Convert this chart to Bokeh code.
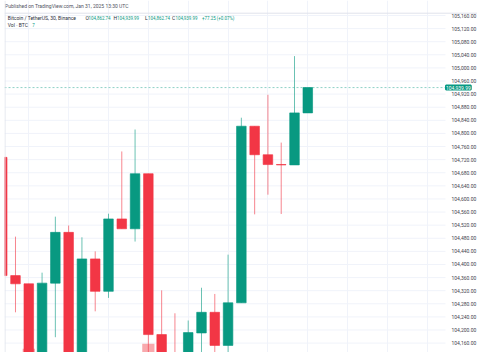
from bokeh.plotting import figure
from bokeh.models import Range1d, FixedTicker, NumeralTickFormatter, Span, Label, ColumnDataSource
from bokeh.core.properties import value
from bokeh.embed import file_html
from bokeh.resources import INLINE

# ---- data (30-minute candles, BTC/USDT, Binance) ----
opens  = [104727, 104366, 104341, 104062, 104343, 104498, 104042, 104417, 104318, 104539,
          104509, 104677, 104186, 104060, 104032, 104191, 104254, 104153, 104283, 104822,
          104735, 104705, 104704, 104862.74]
highs  = [104760, 104485, 104341, 104375, 104546, 104519, 104483, 104440, 104555, 104745,
          104812, 104677, 104321, 104251, 104229, 104329, 104310, 104430, 104848, 104822,
          104918, 104772, 105036, 104939.99]
lows   = [104330, 104254, 104020, 104040, 104178, 104000, 104010, 104257, 104298, 104509,
          104470, 104090, 104020, 103990, 104000, 104117, 104090, 104090, 104283, 104553,
          104613, 104554, 104704, 104862.74]
closes = [104366, 104341, 104060, 104343, 104498, 104040, 104417, 104318, 104539, 104509,
          104677, 104186, 104060, 104030, 104192, 104254, 104153, 104283, 104822, 104735,
          104705, 104704, 104862.74, 104939.99]
volumes = [820, 520, 1250, 780, 640, 860, 840, 430, 560, 470,
           690, 1400, 880, 610, 540, 380, 420, 590, 870, 560,
           480, 360, 650, 7]
price_ticks = list(range(104120, 105161, 40))

GREEN = "#089981"
RED = "#F23645"
GREEN_V = "#84ccc0"
RED_V = "#f8a9ad"
GRID = "#f0f3fa"

n = len(opens)
xs = list(range(n))
up = [c >= o for o, c in zip(opens, closes)]
src = ColumnDataSource(dict(
    x=xs,
    top=[max(o, c) for o, c in zip(opens, closes)],
    bottom=[min(o, c) for o, c in zip(opens, closes)],
    high=highs, low=lows, vol=volumes,
    color=[GREEN if u else RED for u in up],
    vcolor=[GREEN_V if u else RED_V for u in up],
))

# pixel calibration helpers (layout only)
def kx(px):
    return (px - 1.71) / 13.286

def vy(py):
    return 105160 - (py - 15) / 0.3276

W, H = 477, 352
FRAME_L, PANE_R = 4, 443
p = figure(width=W, height=H, output_backend="svg", toolbar_location=None,
           x_range=Range1d(kx(FRAME_L), kx(W)), y_range=Range1d(vy(H), vy(0)),
           y_axis_location="right", x_axis_location=None,
           min_border_left=FRAME_L, min_border_right=0,
           min_border_top=0, min_border_bottom=0,
           background_fill_color="white", border_fill_color="white")
p.outline_line_color = None
p.extra_y_ranges = {"vol": Range1d(1140, 11700)}

# grids (horizontal lines stop at the price scale)
p.ygrid.visible = False
p.xgrid.ticker = FixedTicker(ticks=list(range(2, 34, 3)))
p.xgrid.grid_line_color = GRID
p.segment(x0=[kx(FRAME_L)] * len(price_ticks), x1=[kx(PANE_R + 2)] * len(price_ticks),
          y0=price_ticks, y1=price_ticks, line_color=GRID, line_width=1)

# price scale: axis pinned at the pane edge
ax = p.yaxis[0]
ax.fixed_location = kx(PANE_R)
ax.ticker = FixedTicker(ticks=price_ticks)
ax.formatter = NumeralTickFormatter(format="0,0.00")
ax.axis_line_color = None
ax.major_tick_line_color = None
ax.minor_tick_line_color = None
ax.major_label_standoff = 2
ax.major_label_text_font = "Roboto"
ax.major_label_text_font_size = "5px"
ax.major_label_text_color = "#3f434e"

# borders
p.add_layout(Span(location=vy(12.7), dimension="width", line_color="#e0e3eb",
                  line_width=1))
p.add_layout(Span(location=kx(4.5), dimension="height", line_color="#e0e3eb",
                  line_width=1))

# volume
p.vbar(x="x", width=0.92, top="vol", bottom=0, source=src, y_range_name="vol",
       fill_color="vcolor", line_color=None)

# wicks and bodies
p.segment(x0="x", y0="low", x1="x", y1="high", source=src, line_color="color",
          line_alpha=0.6, line_width=1)
p.vbar(x="x", width=0.72, top="top", bottom="bottom", source=src,
       fill_color="color", line_color="color", line_width=0.8, line_alpha=0.8)

# last price line
o, h, l, c = opens[-1], highs[-1], lows[-1], closes[-1]
p.segment(x0=[kx(FRAME_L)], x1=[kx(PANE_R + 2)], y0=[c], y1=[c], line_color=GREEN,
          line_alpha=0.45, line_dash="2 2", line_width=1)

# legend texts
chg = c - o
pct = chg / o * 100
fmt = lambda v: f"{v:,.2f}"
DARK = "#2a2e39"
words = [
    ("Published on TradingView.com, Jan 31, 2025 13:30 UTC", 4.5, 5.7, "#50535e"),
    ("Bitcoin / TetherUS, 30, Binance", 7.3, 17.8, DARK),
    ("O", 84.9, 17.8, DARK), ("H", 113.0, 17.8, DARK),
    ("L", 144.6, 17.8, DARK), ("C", 171.4, 17.8, DARK),
    ("Vol · BTC", 7.3, 24.4, DARK),
]
nums = [
    (fmt(o), 88.1, 17.8, GREEN), (fmt(h), 116.6, 17.8, GREEN),
    (fmt(l), 147.6, 17.8, GREEN), (fmt(c), 174.9, 17.8, GREEN),
    (f"{chg:+.2f} ({pct:+.2f}%)", 201.5, 17.8, GREEN),
    (f"{volumes[-1]}", 31.8, 24.4, GREEN),
]
for items, size in ((words, "5px"), (nums, "4.45px")):
    tsrc = ColumnDataSource(dict(
        x=[kx(t[1]) for t in items], y=[vy(t[2]) for t in items],
        text=[t[0] for t in items], color=[t[3] for t in items]))
    p.text(x="x", y="y", text="text", text_color="color", source=tsrc,
           text_font=value("Roboto"), text_font_size=size,
           text_baseline="middle", text_align="left")

# last-price tag on the price scale
p.add_layout(Label(x=kx(445.5), y=c, text=fmt(c), text_color="white",
                   text_font="Roboto", text_font_size="5px",
                   text_baseline="middle", text_align="left",
                   background_fill_color=GREEN,
                   border_line_color=GREEN, border_line_width=2))

open("out.html", "w").write(file_html(p, INLINE))
